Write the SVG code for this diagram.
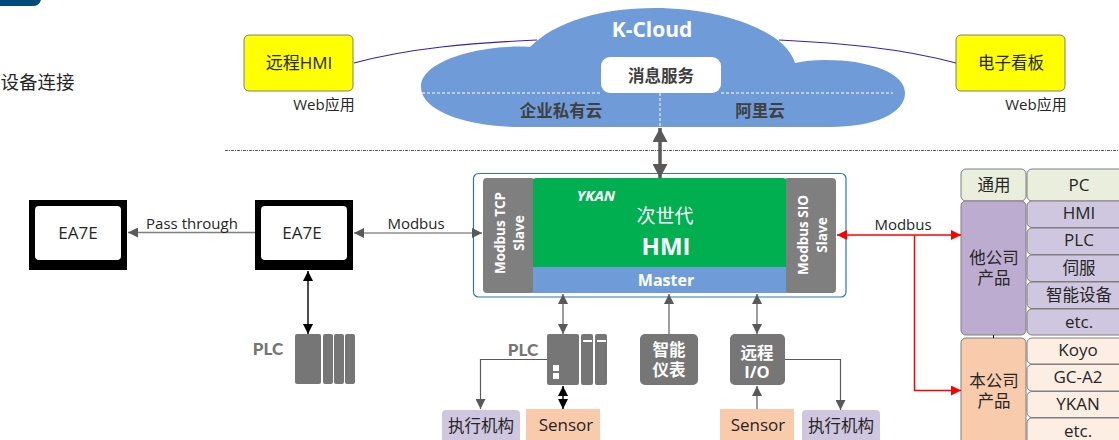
<svg xmlns="http://www.w3.org/2000/svg" width="1119" height="440" viewBox="0 0 1119 440">
<style>
text{font-family:"Open Sans","Noto Sans","Noto Sans CJK SC",sans-serif;text-anchor:middle;dominant-baseline:central;fill:#262626}
.b{font-weight:700}
.w{fill:#fff}
.d{fill:#404040;font-weight:700;font-size:16.500px}
.t{font-size:16.500px}
.l{font-size:17px}
.s{font-size:15px}
.g{fill:#767676}
.cell{stroke:#7f7f7f;stroke-width:1}
.line{fill:none;stroke:#7f7f7f;stroke-width:1.5}
.dk{fill:none;stroke:#595959;stroke-width:1.2}
.blk{fill:none;stroke:#000;stroke-width:1.4}
.red{fill:none;stroke:#f00;stroke-width:1.5}
.pur{fill:none;stroke:#3a1fb5;stroke-width:1.2}
.dash{fill:none;stroke:#fff;stroke-width:1;stroke-dasharray:3 2}
</style>
<defs>
<marker id="ag" markerUnits="userSpaceOnUse" markerWidth="12" markerHeight="10" refX="10" refY="5" orient="auto-start-reverse"><path d="M0,0L10,5L0,10Z" fill="#595959"/></marker>
<marker id="ak" markerUnits="userSpaceOnUse" markerWidth="12" markerHeight="10" refX="10" refY="5" orient="auto-start-reverse"><path d="M0,0L10,5L0,10Z" fill="#000"/></marker>
<marker id="ar" markerUnits="userSpaceOnUse" markerWidth="12" markerHeight="10" refX="10" refY="5" orient="auto-start-reverse"><path d="M0,0L10,5L0,10Z" fill="#f00"/></marker>
<marker id="abig" markerUnits="userSpaceOnUse" markerWidth="15" markerHeight="15" refX="14" refY="7.5" orient="auto-start-reverse"><path d="M0,0L14,7.5L0,15Z" fill="#595959"/></marker>
</defs>

<path id="corner" d="M0,0H41Q39,6 33,6H0Z" fill="#004a7c"/>
<text x="37.500" y="81" font-size="18.500">设备连接</text>

<g id="cloud">
<path d="M530,47C490,44 421,58 421,87C421,112 470,127 520,127L830,127C875,127 905,113 905,93C905,73 870,60 825,60Q808,60 795,63C785,30 720,8 655,8C600,8 555,22 530,47Z" fill="#6f9cd9"/>
<rect x="601" y="57" width="120" height="36" rx="9" fill="#fff"/>
<path class="dash" d="M422,93H601M721,93H893M660,93V127"/>
<text x="652" y="29" font-size="21" class="b w">K-Cloud</text>
<text x="661" y="75" class="d">消息服务</text>
<text x="561" y="110" class="d">企业私有云</text>
<text x="760" y="110" class="d">阿里云</text>
</g>

<g id="hmi-remote">
<rect x="244" y="35" width="109" height="56" rx="5" fill="#ff0" stroke="#7f7f7f"/>
<text x="299" y="62" class="l">远程HMI</text>
<text x="324" y="104" class="s">Web应用</text>
</g>
<g id="board">
<rect x="956" y="35" width="109" height="56" rx="5" fill="#ff0" stroke="#7f7f7f"/>
<text x="1011" y="62" class="t">电子看板</text>
<text x="1036" y="104" class="s">Web应用</text>
</g>

<g id="hmi">
<rect x="473.500" y="173.500" width="372.500" height="123.500" rx="5" fill="#fff" stroke="#2e75b6" stroke-width="1.200"/>
<rect x="483" y="178" width="52" height="115" rx="4" fill="#7f7f7f"/>
<rect x="784" y="178" width="52" height="115" rx="4" fill="#7f7f7f"/>
<rect x="533" y="178" width="253" height="92" rx="3" fill="#00b050"/>
<rect x="533" y="267" width="253" height="26" fill="#6f9cd9"/>
<text x="596" y="195" font-size="15" font-style="italic" class="b w">YKAN</text>
<text x="665" y="216" font-size="19" class="w">次世代</text>
<text x="666" y="245" font-size="24" class="b w">HMI</text>
<text x="666" y="280" font-size="16" class="b w">Master</text>
<text transform="translate(500,233) rotate(-90)" font-size="13.500" class="b w">Modbus TCP</text>
<text transform="translate(519,233) rotate(-90)" font-size="13.500" class="b w">Slave</text>
<text transform="translate(803,235) rotate(-90)" font-size="13.500" class="b w">Modbus SIO</text>
<text transform="translate(822,235) rotate(-90)" font-size="13.500" class="b w">Slave</text>
</g>

<g id="ea7e-1">
<rect x="29" y="200" width="98" height="70" fill="#000"/>
<rect x="35" y="206" width="86" height="54" rx="4" fill="#fff"/>
<text x="78" y="232" class="l">EA7E</text>
</g>
<g id="ea7e-2">
<rect x="255" y="200" width="98" height="70" fill="#000"/>
<rect x="261" y="206" width="86" height="54" rx="4" fill="#fff"/>
<text x="302" y="232" class="l">EA7E</text>
</g>

<g id="plc-left" fill="#767676">
<rect x="295" y="334" width="26" height="50" rx="2"/>
<rect x="323" y="334" width="10" height="50" rx="2"/>
<rect x="334" y="334" width="10" height="50" rx="2"/>
<rect x="345" y="334" width="10" height="50" rx="2"/>
<text x="268" y="348" font-size="17" class="g" style="font-family:Lato,sans-serif;font-weight:900">PLC</text>
</g>

<g id="plc-mid" fill="#767676">
<rect x="547" y="334" width="32" height="51" rx="2"/>
<rect x="581" y="334" width="12" height="51" rx="2"/>
<rect x="595" y="334" width="12" height="51" rx="2"/>
<rect x="583" y="340" width="9" height="2" fill="#fff"/>
<rect x="597" y="340" width="9" height="2" fill="#fff"/>
<rect x="553" y="365" width="6" height="6" fill="#fff"/>
<rect x="553" y="373" width="6" height="6" fill="#fff"/>
<text x="523" y="349" font-size="17" class="g" style="font-family:Lato,sans-serif;font-weight:900">PLC</text>
</g>

<g id="meter">
<rect x="640" y="334" width="58" height="51" rx="5" fill="#767676"/>
<text class="b w" font-size="16.500"><tspan x="669" y="349">智能</tspan><tspan x="669" y="369">仪表</tspan></text>
</g>
<g id="remote-io">
<rect x="730" y="334" width="55" height="51" rx="5" fill="#767676"/>
<text class="b w" font-size="16.500"><tspan x="757" y="352">远程</tspan><tspan x="757" y="371">I/O</tspan></text>
</g>

<g id="act-1"><rect x="442" y="410" width="78" height="34" rx="4" fill="#cfc7df"/><text x="481" y="425" class="t">执行机构</text></g>
<g id="sensor-1"><rect x="526" y="409" width="74" height="35" fill="#f8cbad"/><text x="566" y="424" class="l">Sensor</text></g>
<g id="sensor-2"><rect x="720" y="409" width="74" height="35" fill="#f8cbad"/><text x="758" y="424" class="l">Sensor</text></g>
<g id="act-2"><rect x="802" y="410" width="78" height="34" rx="4" fill="#cfc7df"/><text x="841" y="425" class="t">执行机构</text></g>

<g id="table">
<rect class="cell" x="961" y="169" width="65" height="32" rx="5" fill="#e9eedd"/><text x="994" y="184" class="t">通用</text>
<rect class="cell" x="1027" y="169" width="100" height="32" rx="5" fill="#e9eedd"/><text x="1079" y="184" class="l">PC</text>
<rect class="cell" x="961" y="201" width="65" height="134" rx="5" fill="#bcadd0"/><text class="t"><tspan x="994" y="257">他公司</tspan><tspan x="994" y="277">产品</tspan></text>
<rect class="cell" x="1027" y="201" width="100" height="26.500" rx="5" fill="#cfc7df"/><text x="1079" y="212" class="l">HMI</text>
<rect class="cell" x="1027" y="228" width="100" height="26.500" rx="5" fill="#cfc7df"/><text x="1079" y="239" class="l">PLC</text>
<rect class="cell" x="1027" y="255" width="100" height="26.500" rx="5" fill="#cfc7df"/><text x="1079" y="267" class="t">伺服</text>
<rect class="cell" x="1027" y="282" width="100" height="26.500" rx="5" fill="#cfc7df"/><text x="1079" y="294" class="t">智能设备</text>
<rect class="cell" x="1027" y="309" width="100" height="26" rx="5" fill="#cfc7df"/><text x="1079" y="321" class="l">etc.</text>
<rect class="cell" x="961" y="338" width="65" height="110" rx="5" fill="#f8cbad"/><text class="t"><tspan x="994" y="380">本公司</tspan><tspan x="994" y="400">产品</tspan></text>
<rect class="cell" x="1027" y="338" width="100" height="26" rx="5" fill="#fdeee3"/><text x="1078" y="349" class="l">Koyo</text>
<rect class="cell" x="1027" y="364.500" width="100" height="26.500" rx="5" fill="#fdeee3"/><text x="1078" y="376" class="l">GC-A2</text>
<rect class="cell" x="1027" y="391.500" width="100" height="26" rx="5" fill="#fdeee3"/><text x="1078" y="403" class="l">YKAN</text>
<rect class="cell" x="1027" y="418" width="100" height="30" rx="5" fill="#fdeee3"/><text x="1078" y="430" class="l">etc.</text>
</g>

<g id="connectors">
<path class="pur" d="M354,63C410,48 470,43 537,40"/>
<path class="pur" d="M779,40C840,43 900,48 956,63"/>
<path d="M225,150.500H1119" fill="none" stroke="#595959" stroke-width="1" stroke-dasharray="3 1 1 1"/>
<path d="M660,128V178" fill="none" stroke="#595959" stroke-width="3.500" marker-start="url(#abig)" marker-end="url(#abig)"/>
<path class="line" d="M255,232.500H128" marker-end="url(#ag)"/>
<path class="dk" d="M354,233H482" marker-start="url(#ag)" marker-end="url(#ag)"/>
<path class="blk" d="M308,271V334" marker-start="url(#ak)" marker-end="url(#ak)"/>
<path class="dk" d="M563,294V334" marker-start="url(#ag)" marker-end="url(#ag)"/>
<path class="dk" d="M547,359.500H480.500V409" marker-end="url(#ag)"/>
<path class="blk" d="M563,386V409" marker-start="url(#ak)" marker-end="url(#ak)"/>
<path class="line" d="M669,334V294" marker-end="url(#ag)"/>
<path class="dk" d="M757,294V334" marker-start="url(#ag)" marker-end="url(#ag)"/>
<path class="dk" d="M785,359.500H840.500V410" marker-end="url(#ag)"/>
<path class="dk" d="M757,409V386" marker-end="url(#ag)"/>
<path class="red" d="M837,235H961" marker-start="url(#ar)" marker-end="url(#ar)"/>
<path class="red" d="M914.500,235V390.500H961" marker-end="url(#ar)"/>
<path d="M993.500,335V338" stroke="#000" stroke-width="1"/>
<text x="192" y="223" class="s">Pass through</text>
<text x="416" y="223" class="s">Modbus</text>
<text x="903" y="224" class="s">Modbus</text>
</g>
</svg>
